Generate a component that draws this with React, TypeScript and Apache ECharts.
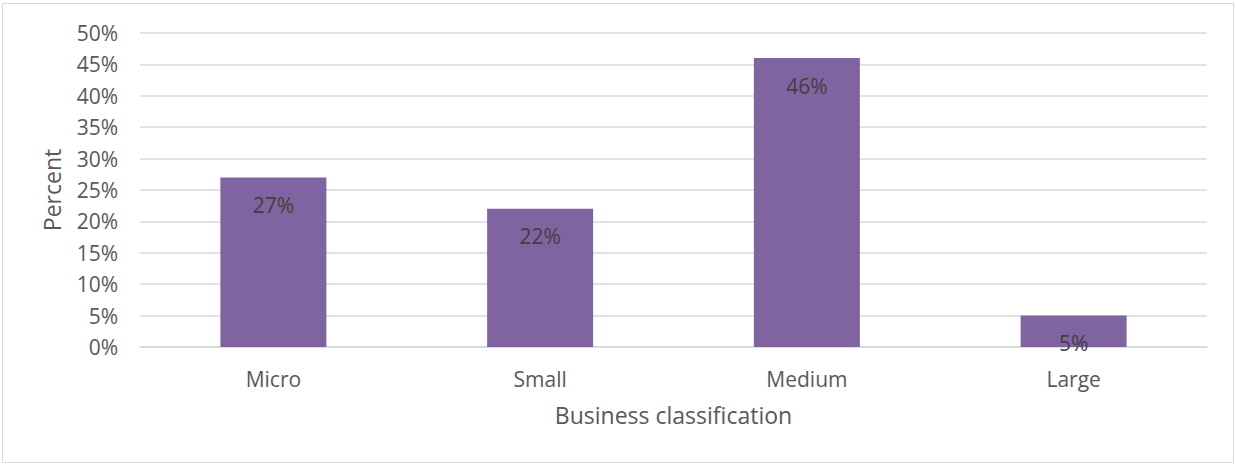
import React, { useEffect, useRef } from "react";
import * as echarts from "echarts";

const categories = ["Micro", "Small", "Medium", "Large"];
const percents = [27, 22, 46, 5];
const yTicks = { min: 0, max: 50, interval: 5 };
const xTitle = "Business classification";
const yTitle = "Percent";

export default function App() {
  const ref = useRef<HTMLDivElement>(null);
  useEffect(() => {
    document.body.style.margin = "0";
    const chart = echarts.init(ref.current!, null, { renderer: "svg" });
    const font = "'Open Sans', 'Noto Sans', sans-serif";
    chart.setOption({
      animation: false,
      textStyle: { fontFamily: font },
      graphic: [
        {
          type: "rect",
          shape: { x: 2.5, y: 3.5, width: 1231, height: 459 },
          style: { fill: "#fff", stroke: "#d9d9d9", lineWidth: 1 },
          z: -10,
        },
      ],
      grid: { left: 140, right: 29, top: 33, bottom: 118 },
      xAxis: {
        type: "category",
        data: categories,
        name: xTitle,
        nameLocation: "middle",
        nameGap: 56,
        nameTextStyle: { fontSize: 23, color: "#595959", fontFamily: font },
        axisLine: { lineStyle: { color: "#d9d9d9", width: 1.5 } },
        axisTick: { show: false },
        axisLabel: { color: "#595959", fontSize: 21, margin: 21, fontFamily: font },
      },
      yAxis: {
        type: "value",
        min: yTicks.min,
        max: yTicks.max,
        interval: yTicks.interval,
        name: yTitle,
        nameLocation: "middle",
        nameGap: 77,
        nameTextStyle: { fontSize: 23, color: "#595959", fontFamily: font },
        axisLine: { show: false },
        axisTick: { show: false },
        axisLabel: {
          color: "#595959",
          fontSize: 21,
          margin: 22,
          fontFamily: font,
          formatter: (v: number) => `${v}%`,
        },
        splitLine: { lineStyle: { color: "#d9d9d9", width: 1.5 } },
      },
      series: [
        {
          type: "bar",
          data: percents,
          barWidth: 106,
          itemStyle: { color: "#8064A2" },
          label: {
            show: true,
            position: "insideTop",
            distance: 17,
            color: "#404040",
            fontSize: 21,
            fontFamily: font,
            formatter: (p: any) => `${p.value}%`,
          },
        },
      ],
    });
    return () => chart.dispose();
  }, []);
  return <div ref={ref} style={{ width: 1236, height: 465 }} />;
}
